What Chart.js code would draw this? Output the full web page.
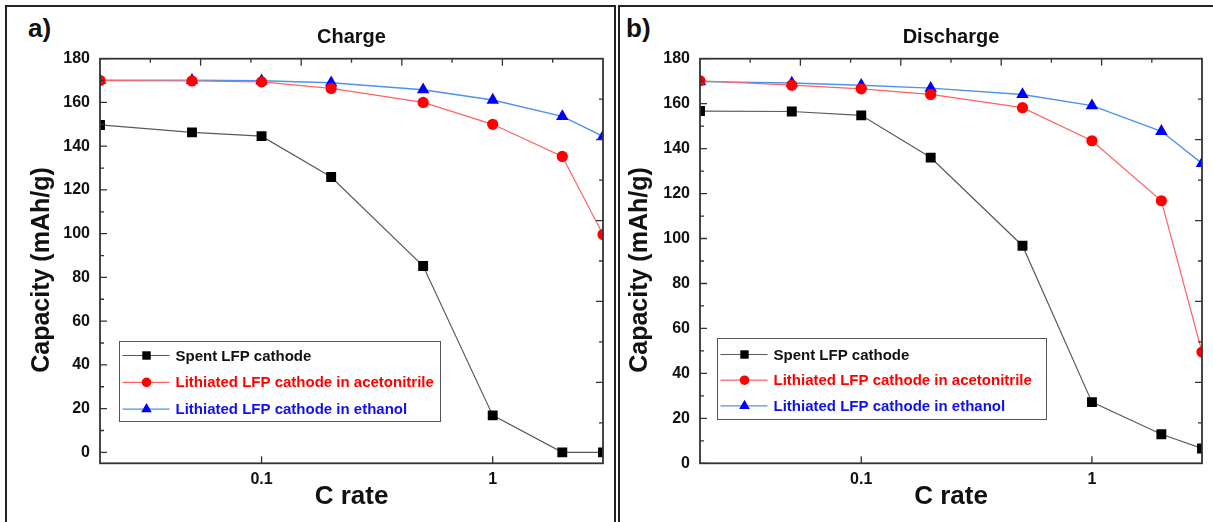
<!DOCTYPE html>
<html><head><meta charset="utf-8">
<script src="https://cdn.jsdelivr.net/npm/chart.js@4.4.0/dist/chart.umd.min.js"></script>
<style>
html,body{margin:0;padding:0;background:#fff;width:1213px;height:522px;overflow:hidden;font-family:"Liberation Sans",Arial,sans-serif;}
.frame{position:absolute;border:2px solid #222;border-bottom:none;box-sizing:border-box;}
#frameA{left:5px;top:5px;width:611px;height:530px;}
#frameB{left:618px;top:5px;width:600px;height:530px;}
.plabel{position:absolute;font-weight:bold;font-size:26px;line-height:26px;color:#111;}
canvas{position:absolute;top:0;}
</style></head>
<body>
<div class="frame" id="frameA"></div>
<div class="frame" id="frameB"></div>
<div class="plabel" style="left:28px;top:15px;">a)</div>
<div class="plabel" style="left:626px;top:15px;">b)</div>
<canvas id="cA" width="617" height="522" style="left:0px;"></canvas>
<canvas id="cB" width="596" height="522" style="left:617px;"></canvas>
<script>
// ---- data ----
const cRates = [0.02, 0.05, 0.1, 0.2, 0.5, 1, 2, 3];
const seriesNames = ['Spent LFP cathode', 'Lithiated LFP cathode in acetonitrile', 'Lithiated LFP cathode in ethanol'];
const chargeSpent        = [149.7, 146.3, 144.6, 125.9, 85.2, 16.9, 0, 0];
const chargeAcetonitrile = [170.0, 169.8, 169.4, 166.4, 160.0, 150.0, 135.3, 99.6];
const chargeEthanol      = [170.2, 170.2, 169.9, 169.0, 165.8, 161.1, 153.6, 144.5];
const dischargeSpent        = [156.7, 156.5, 154.8, 136.0, 96.8, 27.2, 12.9, 6.6];
const dischargeAcetonitrile = [170.2, 168.2, 166.6, 164.1, 158.2, 143.5, 116.8, 49.5];
const dischargeEthanol      = [169.8, 169.2, 168.2, 166.9, 164.1, 159.1, 147.7, 133.4];
const xTickValues = [0.1, 1];
const xTickLabels = ['0.1', '1'];
const yTickValues = [0, 20, 40, 60, 80, 100, 120, 140, 160, 180];
const panelTitles = ['Charge', 'Discharge'];
const xTitle = 'C rate';
const yTitle = 'Capacity (mAh/g)';

const FAM = '"Liberation Sans", Arial, sans-serif';
const legendTextColors = ['#111111', '#ff0000', '#1010f0'];

const framePlugin = {
  id: 'frameTicks',
  afterDatasetsDraw(chart) {
    const {ctx, chartArea: a, scales} = chart;
    ctx.save();
    ctx.strokeStyle = '#333';
    ctx.lineWidth = 1.3;
    ctx.beginPath();
    const ys = scales.y;
    for (let v = Math.ceil(ys.min / 10) * 10; v <= ys.max; v += 10) {
      const py = ys.getPixelForValue(v);
      const len = v % 20 === 0 ? 7 : 4;
      ctx.moveTo(a.left, py); ctx.lineTo(a.left + len, py);
    }
    scales.x.ticks.forEach(t => {
      const px = scales.x.getPixelForValue(t.value);
      ctx.moveTo(px, a.bottom); ctx.lineTo(px, a.bottom - 7);
    });
    for (let i = 1; i < 10; i++) {
      const f = i / 10, len = i % 2 === 0 ? 7 : 4;
      const px = a.left + f * (a.right - a.left);
      ctx.moveTo(px, a.top); ctx.lineTo(px, a.top + len);
      const py = a.top + f * (a.bottom - a.top);
      ctx.moveTo(a.right, py); ctx.lineTo(a.right - len, py);
    }
    ctx.stroke();
    ctx.lineWidth = 1.8;
    ctx.strokeRect(a.left, a.top, a.right - a.left, a.bottom - a.top);
    ctx.restore();
  }
};

const yTitlePlugin = {
  id: 'yTitleText',
  afterDraw(chart, args, o) {
    const {ctx, chartArea: a} = chart;
    ctx.save();
    ctx.translate(o.x, (a.top + a.bottom) / 2 + o.dy);
    ctx.rotate(-Math.PI / 2);
    ctx.fillStyle = '#111';
    ctx.font = 'bold 25px ' + FAM;
    ctx.textAlign = 'center';
    ctx.textBaseline = 'middle';
    ctx.fillText(o.text, 0, 0);
    ctx.restore();
  }
};

const legendPlugin = {
  id: 'boxLegend',
  afterDraw(chart, args, o) {
    const {ctx, chartArea: a} = chart;
    const x0 = Math.round(a.left + o.dx) + 0.5, y0 = Math.round(a.top + o.dy) + 0.5;
    ctx.save();
    ctx.fillStyle = '#fff';
    ctx.fillRect(x0, y0, o.w, o.h);
    ctx.strokeStyle = '#555';
    ctx.lineWidth = 1;
    ctx.strokeRect(x0, y0, o.w, o.h);
    chart.data.datasets.forEach((ds, i) => {
      const yy = y0 + o.first + i * o.gap;
      ctx.strokeStyle = ds.borderColor;
      ctx.lineWidth = ds.borderWidth;
      ctx.beginPath(); ctx.moveTo(x0 + 3, yy); ctx.lineTo(x0 + 50, yy); ctx.stroke();
      ctx.fillStyle = ds.pointBackgroundColor;
      Chart.helpers.drawPoint(ctx, {pointStyle: ds.pointStyle, radius: ds.pointRadius * 0.85, borderWidth: 0, rotation: 0}, x0 + 27, yy);
      ctx.fillStyle = legendTextColors[i];
      ctx.font = 'bold 15px ' + FAM;
      ctx.textBaseline = 'middle';
      ctx.textAlign = 'left';
      ctx.fillText(ds.label, x0 + 56, yy + 1);
    });
    ctx.restore();
  }
};

function toPoints(arr) { return cRates.map((x, i) => ({x: x, y: arr[i]})); }

function makeDatasets(spent, acn, eth) {
  return [
    {label: seriesNames[0], data: toPoints(spent), borderColor: '#5a5a5a', borderWidth: 1.2,
     pointStyle: 'rect', pointRadius: 7, pointBackgroundColor: '#000', pointBorderColor: '#000', pointBorderWidth: 0, clip: 0},
    {label: seriesNames[1], data: toPoints(acn), borderColor: '#ff6262', borderWidth: 1.2,
     pointStyle: 'circle', pointRadius: 5.6, pointBackgroundColor: '#ff0000', pointBorderColor: '#ff0000', pointBorderWidth: 0, clip: 0},
    {label: seriesNames[2], data: toPoints(eth), borderColor: '#4b93ec', borderWidth: 1.4,
     pointStyle: 'triangle', pointRadius: 7.2, pointBackgroundColor: '#0000ff', pointBorderColor: '#0000ff', pointBorderWidth: 0, clip: 0}
  ];
}

function makeConfig(title, spent, acn, eth, yMin, pad, yWidth, xHeight, leg, yt) {
  return {
    type: 'line',
    data: {datasets: makeDatasets(spent, acn, eth)},
    options: {
      responsive: false, animation: false, devicePixelRatio: 1,
      layout: {padding: pad},
      elements: {line: {tension: 0}},
      plugins: {
        legend: {display: false}, tooltip: {enabled: false},
        title: {display: true, fullSize: false, text: title, color: '#111', font: {family: FAM, size: 20, weight: 'bold'}, padding: {top: 25, bottom: 9.7}},
        boxLegend: leg,
        yTitleText: yt
      },
      scales: {
        x: {
          type: 'logarithmic', min: 0.02, max: 3, position: 'bottom',
          grid: {display: false, drawTicks: false}, border: {display: false},
          afterBuildTicks: s => { s.ticks = xTickValues.map(v => ({value: v})); },
          ticks: {callback: (v, i) => xTickLabels[i], color: '#111', font: {family: FAM, size: 16, weight: 'bold'}, padding: 6.6, maxRotation: 0, autoSkip: false},
          title: {display: true, text: xTitle, color: '#111', font: {family: FAM, size: 26, weight: 'bold'}, padding: {top: 4, bottom: 4}},
          afterFit: s => { s.height = xHeight; }
        },
        y: {
          min: yMin, max: 180,
          grid: {display: false, drawTicks: false}, border: {display: false},
          afterBuildTicks: s => { s.ticks = yTickValues.map(v => ({value: v})); },
          ticks: {color: '#111', font: {family: FAM, size: 16, weight: 'bold'}, padding: 10},
          title: {display: false},
          afterFit: s => { s.width = yWidth; }
        }
      }
    },
    plugins: [framePlugin, legendPlugin, yTitlePlugin]
  };
}

new Chart(document.getElementById('cA'), makeConfig(panelTitles[0], chargeSpent, chargeAcetonitrile, chargeEthanol, -5,
  {left: 22.4, right: 14, top: 0, bottom: 5.4}, 77.6, 53.3,
  {dx: 19, dy: 282, w: 321, h: 80, first: 14, gap: 26.8},
  {text: yTitle, x: 42, dy: 9}));
new Chart(document.getElementById('cB'), makeConfig(panelTitles[1], dischargeSpent, dischargeAcetonitrile, dischargeEthanol, 0,
  {left: 3.4, right: 11, top: 0, bottom: 5.4}, 79.6, 53.3,
  {dx: 17, dy: 279, w: 329, h: 81, first: 16, gap: 25.7},
  {text: yTitle, x: 23, dy: 9}));
</script>
</body></html>
